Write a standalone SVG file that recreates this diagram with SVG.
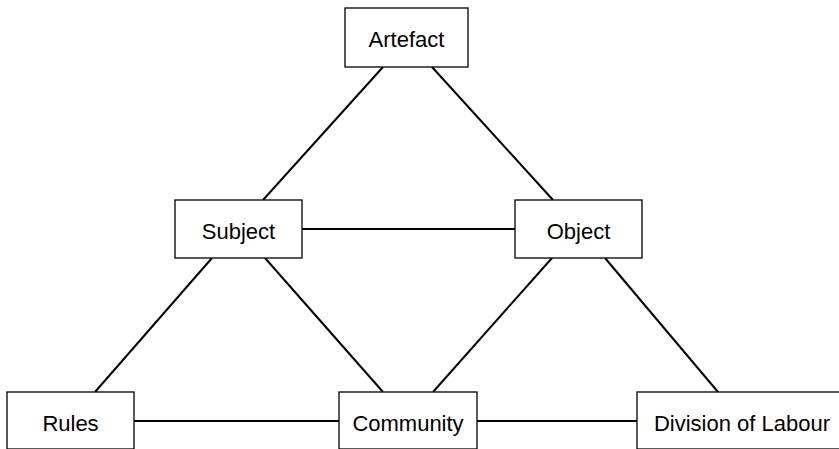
<svg xmlns="http://www.w3.org/2000/svg" width="839" height="449" viewBox="0 0 839 449">
<style>
.box{fill:#fff;stroke:#000;stroke-width:1.3}
.lbl{font-family:"Liberation Sans",Arial,sans-serif;font-size:22px;fill:#000;text-anchor:middle}
.con line{stroke:#000;stroke-width:2}
</style>
<rect width="839" height="449" fill="#fff"/>
<g id="connectors" class="con">
<line x1="383" y1="67" x2="263" y2="200"/>
<line x1="432" y1="67" x2="553" y2="200"/>
<line x1="302" y1="229" x2="515" y2="229"/>
<line x1="212" y1="258" x2="95" y2="392"/>
<line x1="265" y1="258" x2="383" y2="392"/>
<line x1="552" y1="258" x2="433" y2="392"/>
<line x1="605" y1="258" x2="718" y2="392"/>
<line x1="134" y1="421" x2="339" y2="421"/>
<line x1="477" y1="421" x2="637" y2="421"/>
</g>
<g id="artefact"><rect class="box" x="345" y="8" width="123" height="59"/><text class="lbl" x="406.5" y="47">Artefact</text></g>
<g id="subject"><rect class="box" x="175" y="200" width="127" height="58"/><text class="lbl" x="238.5" y="239">Subject</text></g>
<g id="object"><rect class="box" x="515" y="200" width="127" height="58"/><text class="lbl" x="578.5" y="239">Object</text></g>
<g id="rules"><rect class="box" x="7" y="392" width="127" height="57"/><text class="lbl" x="70.5" y="431">Rules</text></g>
<g id="community"><rect class="box" x="339" y="392" width="138" height="57"/><text class="lbl" x="408" y="431">Community</text></g>
<g id="division"><rect class="box" x="637" y="392" width="210" height="57"/><text class="lbl" x="742" y="431">Division of Labour</text></g>
</svg>
